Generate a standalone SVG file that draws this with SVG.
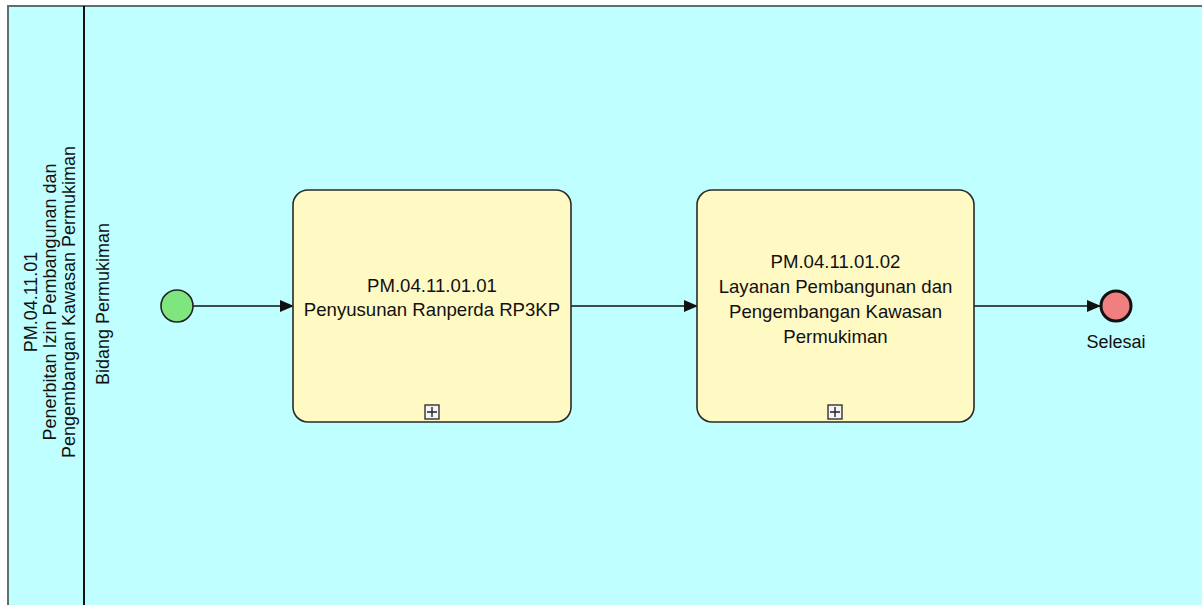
<svg xmlns="http://www.w3.org/2000/svg" width="1202" height="605" viewBox="0 0 1202 605">
  <style>
    text { font-family: "Liberation Sans", Arial, sans-serif; font-size: 18px; fill: #111; }
    .tt { font-size: 18.6px; }
    .task { fill: #FFF9C4; stroke: #2a2a2a; stroke-width: 1.6; }
    .flow { stroke: #111; stroke-width: 1.6; fill: none; marker-end: url(#arrow); }
    .mk { fill: #f4f4f4; stroke: #333; stroke-width: 1.4; }
  </style>
  <defs>
    <marker id="arrow" markerWidth="14" markerHeight="12" refX="13" refY="6" orient="auto" markerUnits="userSpaceOnUse">
      <path d="M0,0 L14,6 L0,12 Z" fill="#111"/>
    </marker>
  </defs>
  <rect x="0" y="0" width="1202" height="605" fill="#ffffff"/>
  <g id="pool">
    <rect x="8" y="6" width="1200" height="610" fill="#BFFFFF" stroke="#5f6f6f" stroke-width="2"/>
    <line x1="84" y1="6" x2="84" y2="605" stroke="#111" stroke-width="2"/>
    <text transform="translate(37,302) rotate(-90)" text-anchor="middle">PM.04.11.01</text>
    <text transform="translate(56,302) rotate(-90)" text-anchor="middle">Penerbitan Izin Pembangunan dan</text>
    <text transform="translate(75,302) rotate(-90)" text-anchor="middle">Pengembangan Kawasan Permukiman</text>
  </g>
  <g id="lane">
    <text transform="translate(109,304) rotate(-90)" text-anchor="middle">Bidang Permukiman</text>
  </g>
  <g id="connectors">
    <line class="flow" x1="193" y1="306" x2="293" y2="306"/>
    <line class="flow" x1="571" y1="306" x2="697" y2="306"/>
    <line class="flow" x1="974" y1="306" x2="1100" y2="306"/>
  </g>
  <g id="start">
    <circle cx="177" cy="306" r="16" fill="#7FE57F" stroke="#222" stroke-width="1.6"/>
  </g>
  <g id="task1">
    <rect class="task" x="293" y="190" width="278" height="232" rx="15"/>
    <text class="tt" x="432" y="292" text-anchor="middle">PM.04.11.01.01</text>
    <text class="tt" x="432" y="316" text-anchor="middle">Penyusunan Ranperda RP3KP</text>
    <rect class="mk" x="425" y="405" width="14" height="14"/>
    <path d="M432,407 V417 M427,412 H437" stroke="#222" stroke-width="1.4"/>
  </g>
  <g id="task2">
    <rect class="task" x="697" y="190" width="277" height="232" rx="15"/>
    <text class="tt" x="835.5" y="268" text-anchor="middle">PM.04.11.01.02</text>
    <text class="tt" x="835.5" y="293" text-anchor="middle">Layanan Pembangunan dan</text>
    <text class="tt" x="835.5" y="318" text-anchor="middle">Pengembangan Kawasan</text>
    <text class="tt" x="835.5" y="343" text-anchor="middle">Permukiman</text>
    <rect class="mk" x="828" y="405" width="14" height="14"/>
    <path d="M835,407 V417 M830,412 H840" stroke="#222" stroke-width="1.4"/>
  </g>
  <g id="end">
    <circle cx="1116" cy="306" r="15" fill="#F08080" stroke="#111" stroke-width="3"/>
    <text x="1116" y="348" text-anchor="middle">Selesai</text>
  </g>
</svg>
